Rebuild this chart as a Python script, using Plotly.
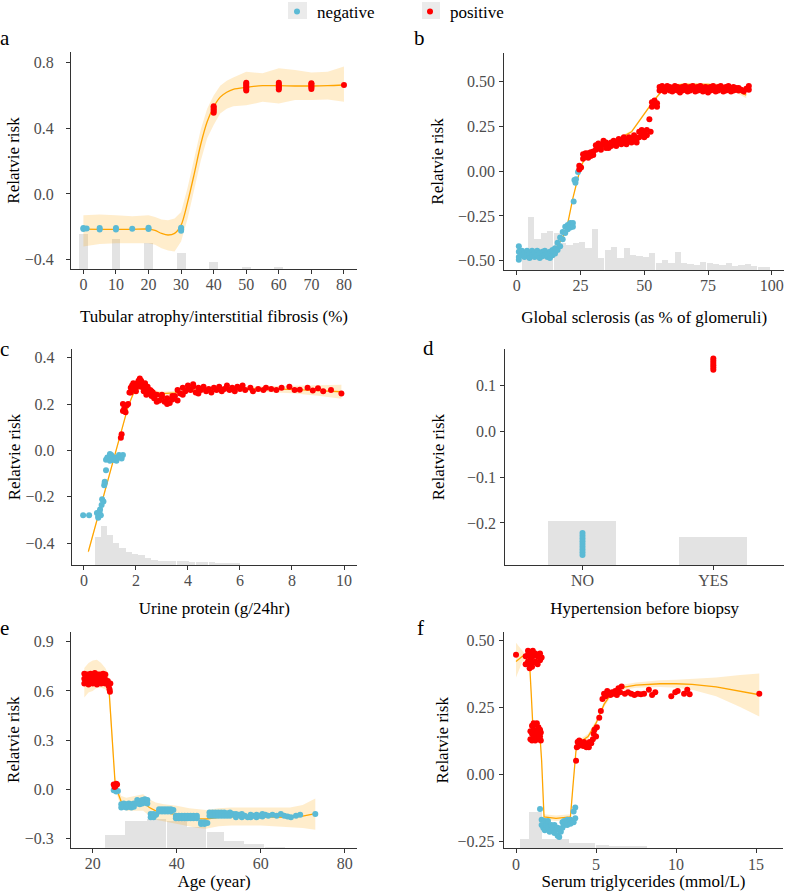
import plotly.graph_objects as go

# ======================= DATA =======================
# ---- panel a : Tubular atrophy/interstitial fibrosis (%)
a_hist_x = [0, 10, 20, 30, 40, 50, 60]
a_hist_top = [-0.246, -0.277, -0.297, -0.358, -0.415, -0.443, -0.443]
a_line_x = [0, 5, 10, 15, 20, 22, 24, 26, 28, 30, 32, 34, 36, 38, 40, 42, 44, 46, 50, 55, 60, 65, 70, 75, 80]
a_line_y = [-0.214, -0.215, -0.215, -0.215, -0.214, -0.222, -0.24, -0.25, -0.24, -0.19, -0.05, 0.12, 0.3, 0.44, 0.53, 0.59, 0.62, 0.638, 0.65, 0.66, 0.66, 0.658, 0.658, 0.66, 0.664]
a_lo = [-0.32, -0.305, -0.30, -0.30, -0.30, -0.31, -0.33, -0.345, -0.35, -0.29, -0.15, 0.02, 0.2, 0.34, 0.42, 0.49, 0.52, 0.535, 0.54, 0.562, 0.552, 0.573, 0.573, 0.575, 0.562]
a_hi = [-0.13, -0.125, -0.13, -0.135, -0.13, -0.14, -0.155, -0.16, -0.15, -0.11, 0.04, 0.22, 0.39, 0.52, 0.6, 0.66, 0.69, 0.71, 0.745, 0.735, 0.766, 0.755, 0.74, 0.745, 0.776]
a_neg_x = [0, 0, 1, 5, 5, 10, 10, 15, 20, 20, 30, 30, 30]
a_neg_y = [-0.207, -0.214, -0.21, -0.207, -0.216, -0.207, -0.217, -0.212, -0.205, -0.214, -0.205, -0.215, -0.224]
a_pos_x = [40, 40, 40, 40, 40,
           50, 50, 50, 50, 50, 50,
           60, 60, 60, 60, 60,
           70, 70, 70, 70, 70,
           80]
a_pos_y = [0.495, 0.505, 0.515, 0.525, 0.535,
           0.63, 0.64, 0.65, 0.66, 0.67, 0.678,
           0.637, 0.647, 0.657, 0.667, 0.677,
           0.64, 0.65, 0.66, 0.67, 0.675,
           0.664]

# ---- panel b : Global sclerosis (as % of glomeruli)
b_hist_x = [3.25, 5.75, 8.25, 10.75, 13.25, 15.75, 18.25, 20.75, 23.25, 25.75, 28.25, 30.75, 33.25,
            35.75, 38.25, 40.75, 43.25, 45.75, 48.25, 50.75, 53.25, 55.75, 58.25, 60.75, 63.25, 65.75,
            68.25, 70.75, 73.25, 75.75, 78.25, 80.75, 83.25, 85.75, 88.25, 90.75, 93.25, 95.75, 98.25]
b_hist_top = [-0.45, -0.258, -0.380, -0.347, -0.334, -0.347, -0.403, -0.412, -0.403, -0.394, -0.431, -0.325, -0.487,
              -0.440, -0.421, -0.487, -0.431, -0.468, -0.474, -0.477, -0.459, -0.515, -0.496, -0.515, -0.449, -0.515,
              -0.519, -0.524, -0.505, -0.515, -0.519, -0.524, -0.515, -0.530, -0.524, -0.519, -0.528, -0.533, -0.537]
b_line_x = [1, 5, 10, 15, 18, 20, 22, 24, 25, 27, 30, 35, 40, 45, 48, 50, 53.5, 57, 60, 65, 70, 75, 80, 85, 90]
b_line_y = [-0.47, -0.465, -0.465, -0.44, -0.37, -0.29, -0.15, -0.03, 0.02, 0.08, 0.12, 0.155, 0.18, 0.22, 0.28, 0.32, 0.39, 0.45, 0.475, 0.485, 0.487, 0.485, 0.478, 0.46, 0.425]
b_lo = [-0.48, -0.473, -0.473, -0.448, -0.378, -0.298, -0.158, -0.038, 0.012, 0.072, 0.112, 0.147, 0.172, 0.212, 0.272, 0.312, 0.382, 0.442, 0.467, 0.477, 0.479, 0.477, 0.468, 0.447, 0.407]
b_hi = [-0.46, -0.457, -0.457, -0.432, -0.362, -0.282, -0.142, -0.022, 0.028, 0.088, 0.128, 0.163, 0.188, 0.228, 0.288, 0.328, 0.398, 0.458, 0.483, 0.493, 0.495, 0.493, 0.488, 0.473, 0.443]
b_neg_x = [0.8, 0.8, 0.8, 0.8,
           2, 2, 3, 3, 4, 4, 5, 5, 6, 6, 7, 7, 8, 8, 9, 9, 10, 10, 11, 11,
           12, 12, 13, 13, 14, 14, 15, 15, 16, 16, 17, 17, 18, 18, 19, 19, 20, 20,
           21, 21, 22, 22,
           22.3, 22.6, 23.0, 23.2, 24.0]
b_neg_y = [-0.42, -0.45, -0.48, -0.495,
           -0.445, -0.47, -0.455, -0.48, -0.445, -0.47, -0.46, -0.485, -0.445, -0.47, -0.455, -0.48, -0.445, -0.47, -0.46, -0.485, -0.45, -0.475, -0.445, -0.47,
           -0.455, -0.48, -0.45, -0.485, -0.44, -0.47, -0.43, -0.46, -0.40, -0.44, -0.37, -0.42, -0.34, -0.38, -0.31, -0.345, -0.30, -0.325,
           -0.29, -0.315, -0.29, -0.31,
           -0.17, -0.05, -0.065, -0.045, -0.005]
b_pos_x = [24.5, 24.5, 25.2,
           26, 26, 27, 27, 28, 28, 29, 29, 30, 30, 31, 31, 32, 32, 33, 33, 34, 34, 35, 35,
           36, 36, 37, 37, 38, 38, 39, 39, 40, 40, 41, 41, 42, 42, 43, 43, 44, 44, 45, 45,
           46, 46, 47, 47, 48, 48, 49, 49, 50, 50, 51, 51,
           52, 52.5, 53, 53, 54, 54, 55, 55,
           56, 56, 57, 57, 58, 58, 59, 59, 60, 60, 61, 61, 62, 62, 63, 63, 64, 64, 65, 65,
           66, 66, 67, 67, 68, 68, 69, 69, 70, 70, 71, 71, 72, 72, 73, 73, 74, 74, 75, 75,
           76, 76, 77, 77, 78, 78, 79, 79, 80, 80, 81, 81, 82, 82, 83, 83, 84, 84, 85, 85,
           86, 86, 87, 87, 88, 89, 90, 91, 91]
b_pos_y = [0.01, 0.03, 0.02,
           0.07, 0.095, 0.08, 0.1, 0.075, 0.1, 0.085, 0.105, 0.09, 0.11, 0.12, 0.145, 0.13, 0.155, 0.14, 0.12, 0.15, 0.17, 0.13, 0.16,
           0.15, 0.13, 0.16, 0.14, 0.15, 0.17, 0.14, 0.16, 0.16, 0.18, 0.17, 0.15, 0.19, 0.16, 0.15, 0.17, 0.17, 0.19, 0.16, 0.18,
           0.2, 0.17, 0.18, 0.16, 0.22, 0.19, 0.21, 0.23, 0.19, 0.22, 0.2, 0.23,
           0.29, 0.22, 0.36, 0.385, 0.37, 0.395, 0.38, 0.36,
           0.45, 0.47, 0.455, 0.475, 0.445, 0.465, 0.46, 0.475, 0.45, 0.47, 0.445, 0.465, 0.455, 0.475, 0.45, 0.47, 0.46, 0.44, 0.45, 0.47,
           0.455, 0.475, 0.445, 0.465, 0.45, 0.47, 0.46, 0.475, 0.445, 0.465, 0.45, 0.47, 0.455, 0.475, 0.445, 0.465, 0.45, 0.47, 0.46, 0.44,
           0.45, 0.47, 0.455, 0.475, 0.445, 0.465, 0.45, 0.47, 0.46, 0.475, 0.445, 0.465, 0.45, 0.47, 0.455, 0.475, 0.445, 0.465, 0.45, 0.47,
           0.455, 0.465, 0.45, 0.465, 0.455, 0.445, 0.46, 0.475, 0.455]

# ---- panel c : Urine protein (g/24hr)
c_hist_edges = [0.4, 0.63, 0.86, 1.1, 1.35, 1.6, 1.84, 2.08, 2.33, 2.58, 2.82, 3.06, 3.3, 3.55, 3.8, 4.04,
                4.28, 4.53, 4.78, 5.02, 5.26, 5.5, 5.75, 6.0]
c_hist_top = [-0.374, -0.325, -0.364, -0.400, -0.422, -0.440, -0.447, -0.454, -0.464, -0.472, -0.476,
              -0.479, -0.480, -0.480, -0.479, -0.482, -0.483, -0.484, -0.484, -0.485, -0.486, -0.487, -0.488]
c_line_x = [0.17, 0.6, 1.0, 1.4, 1.7, 1.9, 2.1, 2.3, 2.6, 3.0, 3.5, 4.0, 5.0, 6.0, 7.0, 8.0, 9.0, 9.9]
c_line_y = [-0.436, -0.262, -0.10, 0.063, 0.19, 0.245, 0.27, 0.268, 0.255, 0.245, 0.248, 0.258, 0.264, 0.266, 0.265, 0.263, 0.258, 0.253]
c_lo = [-0.446, -0.27, -0.106, 0.057, 0.182, 0.237, 0.262, 0.26, 0.247, 0.237, 0.24, 0.25, 0.256, 0.256, 0.253, 0.247, 0.236, 0.223]
c_hi = [-0.426, -0.254, -0.094, 0.069, 0.198, 0.253, 0.278, 0.276, 0.263, 0.253, 0.256, 0.266, 0.272, 0.276, 0.277, 0.279, 0.28, 0.283]
c_neg_x = [-0.03, 0.2, 0.5, 0.55, 0.6, 0.65, 0.55, 0.62, 0.68, 0.7, 0.75, 0.78, 0.8, 0.8, 0.85, 0.85,
           0.9, 0.95, 1.0, 1.05, 1.1, 1.15, 1.2, 1.25, 1.3, 1.35, 1.4, 1.45, 1.5, 1.0, 1.1]
c_neg_y = [-0.28, -0.28, -0.27, -0.285, -0.265, -0.28, -0.29, -0.255, -0.235, -0.21, -0.22, -0.15, -0.135, -0.14, -0.085, -0.04,
           -0.03, -0.035, -0.045, -0.02, -0.03, -0.04, -0.03, -0.045, -0.03, -0.02, -0.025, -0.035, -0.02, -0.015, -0.04]
c_pos_x = [1.42, 1.45, 1.5, 1.5, 1.55, 1.6, 1.65, 1.7, 1.75, 1.8, 1.85, 1.9, 1.95, 2.0, 2.05, 2.1, 2.15, 2.2,
           2.25, 2.3, 2.35, 2.4, 2.45, 2.5, 2.55, 2.6, 2.65, 2.7, 2.8, 2.9, 3.0, 3.1, 3.2, 3.3, 3.4, 3.5,
           3.6, 3.7, 3.8, 3.9, 4.0, 4.1, 4.2, 4.3, 4.4, 4.5, 4.6, 4.7, 4.8, 4.9, 5.0, 5.1, 5.2, 5.3, 5.4,
           5.5, 5.6, 5.7, 5.8, 5.9, 6.0, 6.1, 6.2, 6.4, 6.5, 6.7, 6.9, 7.0, 7.2, 7.4, 7.6, 7.9, 8.1, 8.3,
           8.6, 8.8, 9.0, 9.2, 9.5, 9.9,
           1.8, 1.9, 2.0, 2.1, 2.2, 2.3, 2.4, 2.6, 2.8, 3.0, 3.2, 3.4, 3.6, 3.8, 4.0, 4.2, 4.4]
c_pos_y = [0.055, 0.07, 0.17, 0.2, 0.18, 0.165, 0.195, 0.2, 0.25, 0.27, 0.28, 0.265, 0.285, 0.27, 0.29, 0.3, 0.31, 0.3,
           0.285, 0.27, 0.29, 0.26, 0.275, 0.245, 0.26, 0.235, 0.25, 0.225, 0.24, 0.215, 0.23, 0.21, 0.225, 0.205, 0.22, 0.235,
           0.215, 0.245, 0.27, 0.255, 0.28, 0.26, 0.275, 0.25, 0.27, 0.26, 0.275, 0.255, 0.265, 0.25, 0.27, 0.26, 0.275, 0.255, 0.265,
           0.28, 0.26, 0.27, 0.255, 0.275, 0.265, 0.28, 0.26, 0.27, 0.255, 0.265, 0.26, 0.27, 0.265, 0.26, 0.27, 0.275, 0.26, 0.262,
           0.27, 0.258, 0.268, 0.255, 0.26, 0.245,
           0.25, 0.29, 0.255, 0.28, 0.275, 0.255, 0.24, 0.255, 0.21, 0.24, 0.2, 0.235, 0.26, 0.24, 0.265, 0.285, 0.245]

# ---- panel d : Hypertension before biopsy
d_cats = ["NO", "YES"]
d_hist_top = [-0.196, -0.232]
d_neg_x = ["NO", "NO", "NO", "NO", "NO", "NO", "NO", "NO", "NO"]
d_neg_y = [-0.222, -0.228, -0.234, -0.24, -0.246, -0.252, -0.258, -0.264, -0.27]
d_pos_x = ["YES", "YES", "YES", "YES", "YES", "YES"]
d_pos_y = [0.135, 0.14, 0.145, 0.15, 0.155, 0.16]

# ---- panel e : Age (year)
e_hist_edges = [22.8, 27.7, 32.9, 37.6, 42.4, 47.1, 51.3, 56.0, 60.9, 65.8]
e_hist_top = [-0.277, -0.19, -0.176, -0.19, -0.227, -0.255, -0.315, -0.332, -0.349]
e_line_x = [18, 19, 20, 21, 22, 23, 23.8, 24.5, 25.3, 26, 26.8, 28, 30, 32, 33.5, 35, 37, 40, 43, 45, 47, 50, 53, 56, 60, 64, 67, 70, 73]
e_line_y = [0.66, 0.675, 0.69, 0.7, 0.69, 0.675, 0.64, 0.35, 0.05, -0.02, -0.075, -0.09, -0.085, -0.08, -0.11, -0.13, -0.14, -0.155, -0.17, -0.178, -0.18, -0.17, -0.165, -0.165, -0.165, -0.168, -0.172, -0.163, -0.148]
e_lo = [0.56, 0.59, 0.6, 0.62, 0.62, 0.61, 0.58, 0.3, 0.02, -0.05, -0.11, -0.13, -0.13, -0.13, -0.16, -0.185, -0.195, -0.21, -0.225, -0.235, -0.24, -0.225, -0.22, -0.22, -0.22, -0.225, -0.23, -0.235, -0.245]
e_hi = [0.74, 0.77, 0.785, 0.79, 0.77, 0.74, 0.7, 0.4, 0.08, 0.01, -0.04, -0.05, -0.04, -0.03, -0.06, -0.08, -0.09, -0.1, -0.115, -0.12, -0.125, -0.115, -0.11, -0.11, -0.11, -0.11, -0.11, -0.095, -0.055]
e_pos_x = [18, 18, 18, 18.5, 18.5, 18.5, 19, 19, 19, 19.5, 19.5, 19.5, 20, 20, 20, 20.5, 20.5, 20.5,
           21, 21, 21, 21.5, 21.5, 21.5, 22, 22, 22, 22.5, 22.5, 22.5, 23, 23, 23,
           23.6, 23.8, 24.0, 24.2, 24.1,
           25.0, 25.4, 25.8, 25.2, 25.6]
e_pos_y = [0.645, 0.675, 0.705, 0.65, 0.68, 0.70, 0.64, 0.67, 0.70, 0.655, 0.685, 0.705, 0.645, 0.675, 0.70,
           0.65, 0.68, 0.71, 0.64, 0.67, 0.70, 0.655, 0.68, 0.70, 0.645, 0.675, 0.70, 0.65, 0.68, 0.705,
           0.645, 0.67, 0.70,
           0.66, 0.63, 0.61, 0.645, 0.595,
           0.03, 0.02, 0.03, 0.015, 0.035]
e_neg_x = [25.0, 25.6, 26.0,
           26.8, 26.8, 27.4, 27.4, 28.0, 28.0, 28.6, 28.6, 29.2, 29.2, 29.8, 29.8,
           30.6, 30.6, 31.2, 31.2, 31.8, 31.8, 32.4, 32.4, 33.0, 33.0,
           33.8, 33.8, 34.5, 34.5, 35.1,
           35.8, 35.8, 36.5, 36.5, 37.2, 37.2, 37.9, 37.9, 38.6, 38.6, 39.2,
           39.8, 39.8, 40.5, 40.5, 41.2, 41.2, 41.9, 41.9, 42.6, 42.6, 43.3, 43.3, 44.0, 44.0, 44.8, 44.8,
           45.8, 45.8, 46.6, 46.6, 47.3,
           47.8, 47.8, 48.5, 48.5, 49.2, 49.2, 49.9, 49.9, 50.6, 50.6, 51.3, 51.3, 52.0, 52.0, 52.7, 52.7, 53.4,
           54.1, 54.1, 54.8, 55.5, 55.5, 56.2, 56.9, 57.6, 57.6, 58.3, 59.0, 59.0, 59.7, 60.4, 60.4, 61.1, 61.8,
           62.8, 63.8, 64.8, 65.6, 66.4, 67.2, 68.4, 69.4, 73.0]
e_neg_y = [-0.005, -0.012, -0.01,
           -0.09, -0.11, -0.085, -0.105, -0.09, -0.11, -0.085, -0.105, -0.09, -0.11, -0.085, -0.105,
           -0.065, -0.085, -0.07, -0.09, -0.065, -0.085, -0.06, -0.08, -0.065, -0.085,
           -0.15, -0.17, -0.15, -0.17, -0.155,
           -0.12, -0.135, -0.12, -0.135, -0.12, -0.135, -0.12, -0.135, -0.12, -0.135, -0.125,
           -0.16, -0.175, -0.16, -0.175, -0.16, -0.175, -0.16, -0.175, -0.16, -0.175, -0.16, -0.175, -0.16, -0.175, -0.16, -0.175,
           -0.2, -0.21, -0.2, -0.21, -0.205,
           -0.14, -0.16, -0.14, -0.16, -0.14, -0.16, -0.14, -0.16, -0.14, -0.16, -0.14, -0.16, -0.145, -0.16, -0.14, -0.16, -0.15,
           -0.15, -0.17, -0.155, -0.15, -0.17, -0.16, -0.17, -0.155, -0.17, -0.16, -0.155, -0.17, -0.16, -0.15, -0.165, -0.155, -0.16,
           -0.155, -0.16, -0.15, -0.16, -0.165, -0.17, -0.16, -0.155, -0.149]

# ---- panel f : Serum triglycerides (mmol/L)
f_hist_edges = [0.25, 0.77, 1.6, 2.43, 3.27, 4.1, 4.94, 5.77, 6.6, 7.4, 8.2]
f_hist_top = [-0.244, -0.141, -0.243, -0.245, -0.258, -0.26, -0.266, -0.268, -0.271, -0.273]
f_line_x = [0, 0.2, 0.4, 0.6, 0.85, 0.95, 1.05, 1.3, 1.5, 1.6, 1.75, 2.5, 3.4, 3.55, 3.75, 4.0, 4.5, 5.0, 5.5, 6.0, 6.5, 7.5, 9.0, 10.0, 11.0, 12.5, 14.0, 15.2]
f_line_y = [0.42, 0.43, 0.44, 0.435, 0.41, 0.3, 0.18, 0.15, 0.14, 0.05, -0.16, -0.165, -0.16, -0.05, 0.09, 0.12, 0.14, 0.19, 0.26, 0.305, 0.322, 0.332, 0.337, 0.337, 0.335, 0.325, 0.31, 0.296]
f_lo = [0.36, 0.39, 0.42, 0.425, 0.40, 0.29, 0.17, 0.14, 0.13, 0.04, -0.17, -0.175, -0.17, -0.06, 0.08, 0.11, 0.13, 0.18, 0.25, 0.295, 0.312, 0.322, 0.325, 0.322, 0.315, 0.29, 0.25, 0.215]
f_hi = [0.49, 0.475, 0.46, 0.445, 0.42, 0.31, 0.19, 0.16, 0.15, 0.06, -0.15, -0.155, -0.15, -0.04, 0.1, 0.13, 0.15, 0.2, 0.27, 0.315, 0.332, 0.342, 0.35, 0.352, 0.355, 0.36, 0.37, 0.375]
f_pos_x = [0.0,
           0.6, 0.6, 0.75, 0.75, 0.75, 0.9, 0.9, 0.9, 1.05, 1.05, 1.05, 1.2, 1.2, 1.35, 1.35, 1.5, 1.5, 1.6, 0.85, 1.0,
           0.9, 0.9, 1.0, 1.0, 1.0, 1.1, 1.1, 1.1, 1.2, 1.2, 1.2, 1.3, 1.3, 1.3, 1.4, 1.4, 1.4, 1.5, 1.5, 1.55, 1.55,
           3.75, 3.8, 3.85, 3.9, 4.0, 4.1, 4.2, 4.3, 4.4, 4.5, 4.6, 4.7, 4.8, 3.95, 4.25, 4.55,
           4.85, 4.9, 5.0, 5.05, 5.2, 5.3, 5.4, 5.5, 5.6, 5.7, 5.8, 5.9, 6.0, 6.1, 6.2, 6.3, 6.4, 6.5, 6.6,
           6.8, 7.0, 7.2, 7.4, 7.6, 7.8, 8.0, 8.3, 8.5, 8.7, 9.7, 9.95, 10.1, 10.5, 10.7, 10.85, 15.2]
f_pos_y = [0.445,
           0.41, 0.44, 0.42, 0.445, 0.46, 0.405, 0.43, 0.455, 0.415, 0.44, 0.46, 0.42, 0.45, 0.41, 0.44, 0.425, 0.45, 0.435, 0.395, 0.4,
           0.13, 0.16, 0.125, 0.15, 0.18, 0.14, 0.165, 0.19, 0.125, 0.155, 0.185, 0.135, 0.16, 0.19, 0.13, 0.15, 0.175, 0.14, 0.165, 0.125, 0.155,
           0.05, 0.1, 0.12, 0.105, 0.12, 0.11, 0.105, 0.115, 0.1, 0.11, 0.12, 0.115, 0.13, 0.125, 0.12, 0.1,
           0.15, 0.165, 0.14, 0.175, 0.21, 0.235, 0.28, 0.3, 0.29, 0.31, 0.3, 0.295, 0.305, 0.3, 0.31, 0.295, 0.32, 0.305, 0.327,
           0.3, 0.305, 0.3, 0.295, 0.3, 0.298, 0.3, 0.315, 0.295, 0.305, 0.29, 0.305, 0.31, 0.3, 0.315, 0.298, 0.3]
f_neg_x = [1.5, 1.6, 1.6, 1.7, 1.8, 1.8, 1.9, 2.0, 2.0, 2.1, 2.2, 2.2, 2.3, 2.4, 2.4, 2.5, 2.6, 2.6, 2.7, 2.8,
           2.9, 2.9, 3.0, 3.0, 3.1, 3.2, 3.2, 3.3, 3.4, 3.4, 3.5, 3.6, 3.6, 3.7, 3.7]
f_neg_y = [-0.13, -0.17, -0.19, -0.2, -0.175, -0.21, -0.19, -0.2, -0.175, -0.215, -0.19, -0.205, -0.2, -0.22, -0.19, -0.21, -0.23, -0.2, -0.235, -0.215,
           -0.18, -0.2, -0.175, -0.19, -0.18, -0.17, -0.19, -0.18, -0.17, -0.185, -0.175, -0.18, -0.14, -0.125, -0.165]

# ======================= STYLE =======================
FONT = "Liberation Serif, Times New Roman, serif"
BLUE = "#5BBAD5"
RED = "#FF0000"
ORANGE = "#FFA500"
BAND = "rgba(255,165,0,0.2)"
HIST = "#E3E3E3"
W, H = 792, 892
MS = 6

fig = go.Figure()


def edges_to_cw(edges):
    c = [(edges[i] + edges[i + 1]) / 2 for i in range(len(edges) - 1)]
    w = [(edges[i + 1] - edges[i]) * 0.98 for i in range(len(edges) - 1)]
    return c, w


def add_panel(i, hx, htop, hw, base, lx=None, ly=None, lo=None, hi=None,
              nx=None, ny=None, px=None, py=None, shape="linear", legend=False):
    xa = "x" if i == 1 else "x%d" % i
    ya = "y" if i == 1 else "y%d" % i
    fig.add_trace(go.Bar(x=hx, y=[t - base for t in htop], base=base, width=hw,
                         marker=dict(color=HIST, line=dict(width=0)),
                         xaxis=xa, yaxis=ya, showlegend=False, hoverinfo="skip"))
    if lx is not None:
        assert len(lx) == len(ly) == len(lo) == len(hi)
        fig.add_trace(go.Scatter(x=list(lx) + list(lx)[::-1], y=list(hi) + list(lo)[::-1],
                                 fill="toself", fillcolor=BAND, line=dict(width=0),
                                 mode="lines", xaxis=xa, yaxis=ya, showlegend=False, hoverinfo="skip"))
        fig.add_trace(go.Scatter(x=lx, y=ly, mode="lines",
                                 line=dict(color=ORANGE, width=1.3, shape=shape, smoothing=0.8),
                                 xaxis=xa, yaxis=ya, showlegend=False, hoverinfo="skip"))
    assert len(nx) == len(ny) and len(px) == len(py)
    fig.add_trace(go.Scatter(x=nx, y=ny, mode="markers", name="negative",
                             marker=dict(color=BLUE, size=MS, line=dict(width=0)),
                             xaxis=xa, yaxis=ya, showlegend=legend, legendgroup="neg"))
    fig.add_trace(go.Scatter(x=px, y=py, mode="markers", name="positive",
                             marker=dict(color=RED, size=MS, line=dict(width=0)),
                             xaxis=xa, yaxis=ya, showlegend=legend, legendgroup="pos"))


# ranges
A_X, A_Y = [-3.8, 84], [-0.457, 0.865]
B_X, B_Y = [-4.9, 104.8], [-0.552, 0.66]
C_X, C_Y = [-0.47, 10.5], [-0.494, 0.436]
D_X, D_Y = [-0.59, 1.54], [-0.292, 0.18]
E_X, E_Y = [14.83, 83], [-0.355, 0.961]
F_X, F_Y = [-0.77, 16.7], [-0.277, 0.529]

c_hx, c_hw = edges_to_cw(c_hist_edges)
e_hx, e_hw = edges_to_cw(e_hist_edges)
f_hx, f_hw = edges_to_cw(f_hist_edges)

add_panel(1, a_hist_x, a_hist_top, 2.7, A_Y[0], a_line_x, a_line_y, a_lo, a_hi,
          a_neg_x, a_neg_y, a_pos_x, a_pos_y, shape="spline", legend=True)
add_panel(2, b_hist_x, b_hist_top, 2.45, B_Y[0], b_line_x, b_line_y, b_lo, b_hi,
          b_neg_x, b_neg_y, b_pos_x, b_pos_y)
add_panel(3, c_hx, c_hist_top, c_hw, C_Y[0], c_line_x, c_line_y, c_lo, c_hi,
          c_neg_x, c_neg_y, c_pos_x, c_pos_y)
add_panel(4, d_cats, d_hist_top, 0.52, D_Y[0], None, None, None, None,
          d_neg_x, d_neg_y, d_pos_x, d_pos_y)
add_panel(5, e_hx, e_hist_top, e_hw, E_Y[0], e_line_x, e_line_y, e_lo, e_hi,
          e_neg_x, e_neg_y, e_pos_x, e_pos_y)
add_panel(6, f_hx, f_hist_top, f_hw, F_Y[0], f_line_x, f_line_y, f_lo, f_hi,
          f_neg_x, f_neg_y, f_pos_x, f_pos_y)


def dx(l, r):
    return [l / W, r / W]


def dy(t, b):
    return [1 - b / H, 1 - t / H]


tickfont = dict(family=FONT, size=16, color="#4D4D4D")
titlefont = dict(family=FONT, size=17, color="black")


def xax(dom, rng, tv, title, anchor, standoff, **kw):
    d = dict(domain=dom, range=rng, tickvals=tv, anchor=anchor,
             showline=True, linecolor="#333333", linewidth=1, ticks="outside", ticklen=4,
             tickcolor="#333333", tickwidth=1, showgrid=False, zeroline=False,
             tickfont=tickfont, ticklabelstandoff=-3,
             title=dict(text=title, font=titlefont, standoff=standoff))
    d.update(kw)
    return d


def yax(dom, rng, tv, fmt, anchor, standoff, tls):
    return dict(domain=dom, range=rng, tickvals=tv, tickformat=fmt, anchor=anchor,
                showline=True, linecolor="#333333", linewidth=1, ticks="outside", ticklen=4,
                tickcolor="#333333", tickwidth=1, showgrid=False, zeroline=False,
                tickfont=tickfont, ticklabelstandoff=tls,
                title=dict(text="Relatvie risk", font=titlefont, standoff=standoff))


fig.update_layout(
    xaxis=xax(dx(71, 357), A_X, [0, 10, 20, 30, 40, 50, 60, 70, 80],
              "Tubular atrophy/interstitial fibrosis (%)", "y", 17),
    yaxis=yax(dy(52, 269), A_Y, [-0.4, 0.0, 0.4, 0.8], ".1f", "x", 0, 9),
    xaxis2=xax(dx(504.3, 784), B_X, [0, 25, 50, 75, 100],
               "Global sclerosis (as % of glomeruli)", "y2", 17),
    yaxis2=yax(dy(53, 270), B_Y, [-0.5, -0.25, 0.0, 0.25, 0.5], ".2f", "x2", 10, 1),
    xaxis3=xax(dx(71.7, 357), C_X, [0, 2, 4, 6, 8, 10],
               "Urine protein (g/24hr)", "y3", 13),
    yaxis3=yax(dy(349.3, 565), C_Y, [-0.4, -0.2, 0.0, 0.2, 0.4], ".1f", "x3", 0, 9),
    xaxis4=xax(dx(505.3, 784), D_X, None,
               "Hypertension before biopsy", "y4", 13,
               type="category", categoryorder="array", categoryarray=d_cats),
    yaxis4=yax(dy(349.3, 565), D_Y, [-0.2, -0.1, 0.0, 0.1], ".1f", "x4", 18, 1),
    xaxis5=xax(dx(71, 357.3), E_X, [20, 40, 60, 80],
               "Age (year)", "y5", 0),
    yaxis5=yax(dy(631.7, 847.7), E_Y, [-0.3, 0.0, 0.3, 0.6, 0.9], ".1f", "x5", 0, 9),
    xaxis6=xax(dx(503.7, 783.3), F_X, [0, 5, 10, 15],
               "Serum triglycerides (mmol/L)", "y6", 0),
    yaxis6=yax(dy(632.3, 848.3), F_Y, [-0.25, 0.0, 0.25, 0.5], ".2f", "x6", 4, 1),
)

letters = [("a", 5, 38), ("b", 419, 38), ("c", 4, 349), ("d", 428, 348), ("e", 4, 628), ("f", 420, 628)]
for t, x, y in letters:
    fig.add_annotation(text=t, x=x / W, y=1 - y / H, xref="paper", yref="paper",
                       xanchor="center", yanchor="middle", showarrow=False,
                       font=dict(family=FONT, size=21, color="black"))

# legend key backgrounds
for x0, x1 in [(288, 307), (422, 440)]:
    fig.add_shape(type="rect", xref="paper", yref="paper", x0=x0 / W, x1=x1 / W,
                  y0=1 - 19 / H, y1=1 - 2 / H, fillcolor="#EBEBEB", line=dict(width=0), layer="below")

fig.update_layout(
    width=W, height=H,
    margin=dict(l=0, r=0, t=0, b=0, autoexpand=False),
    paper_bgcolor="white", plot_bgcolor="white",
    font=dict(family=FONT, size=16, color="black"),
    bargap=0,
    legend=dict(orientation="h", x=277 / W, y=1 - 12 / H, xanchor="left", yanchor="middle",
                font=dict(family=FONT, size=17, color="black"),
                bgcolor="rgba(0,0,0,0)", itemwidth=30, entrywidth=88, traceorder="normal"),
)

fig.write_html("out.html", config={"displayModeBar": False},
               post_script="document.body.style.margin='0';")
